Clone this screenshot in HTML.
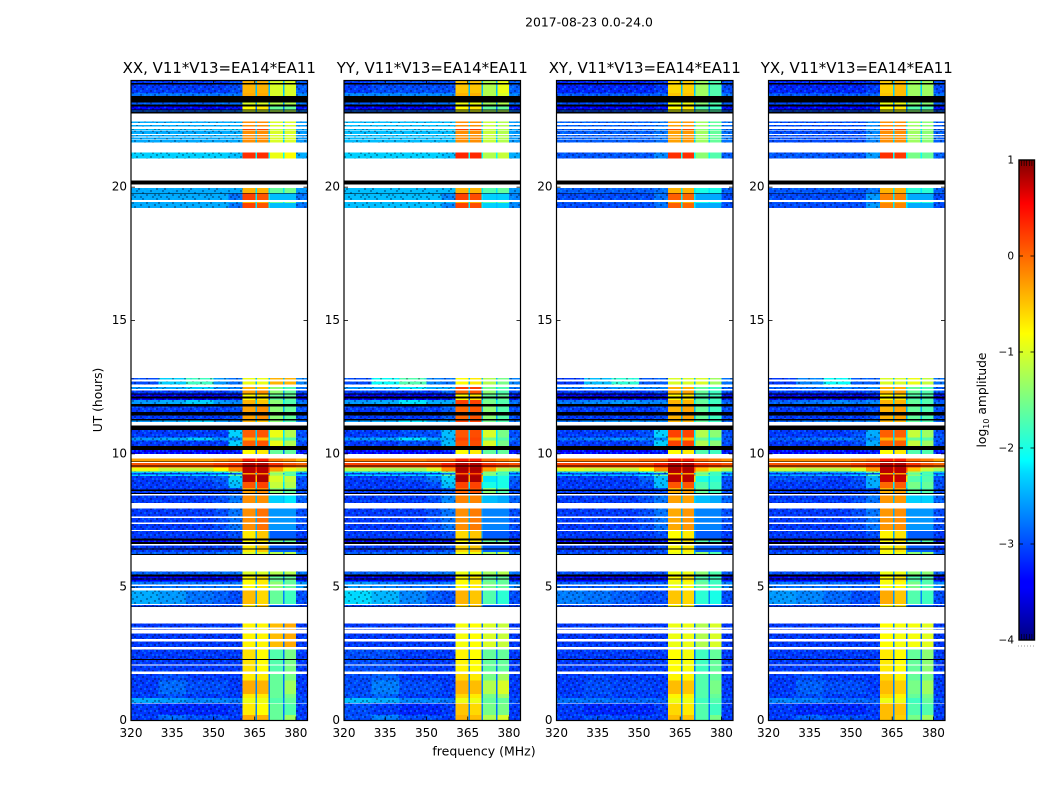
<!DOCTYPE html>
<html lang="en">
<head>
<meta charset="utf-8">
<title>2017-08-23 spectrogram</title>
<style>
html,body{margin:0;padding:0;background:#fff;width:1050px;height:800px;overflow:hidden}
svg{display:block}
text{font-family:"DejaVu Sans","Liberation Sans",sans-serif;fill:#000}
</style>
</head>
<body>
<svg id="figure" width="1050" height="800" viewBox="0 0 1050 800" xmlns="http://www.w3.org/2000/svg">
<defs>
<pattern id="speckle" patternUnits="userSpaceOnUse" width="26" height="22">
<path fill="#000020" fill-opacity="0.33" d="M0 0h2v2h-2zM6 2h2v2h-2zM12 0h2v2h-2zM20 2h2v2h-2zM24 6h2v2h-2zM2 4h2v2h-2zM10 6h2v2h-2zM16 4h2v2h-2zM4 8h2v2h-2zM14 10h2v2h-2zM22 10h2v2h-2zM0 12h2v2h-2zM8 12h2v2h-2zM18 8h2v2h-2zM6 14h2v2h-2zM12 16h2v2h-2zM20 14h2v2h-2zM24 18h2v2h-2zM2 18h2v2h-2zM16 18h2v2h-2zM10 20h2v2h-2zM22 20h2v2h-2zM4 20h2v2h-2z"/>
<path fill="#00c8ff" fill-opacity="0.3" d="M4 0h2v2h-2zM10 2h2v2h-2zM16 0h2v2h-2zM24 2h2v2h-2zM0 6h2v2h-2zM8 4h2v2h-2zM14 6h2v2h-2zM20 6h2v2h-2zM2 10h2v2h-2zM10 10h2v2h-2zM18 12h2v2h-2zM24 12h2v2h-2zM6 10h2v2h-2zM4 16h2v2h-2zM14 14h2v2h-2zM22 16h2v2h-2zM0 16h2v2h-2zM8 18h2v2h-2zM18 20h2v2h-2zM12 12h2v2h-2z"/>
</pattern>
</defs>
<text x="589" y="26.5" font-size="12.4" text-anchor="middle">2017-08-23 0.0-24.0</text>
<text x="484" y="755.5" font-size="12.5" text-anchor="middle">frequency (MHz)</text>
<text transform="translate(102,400) rotate(-90)" font-size="12.3" text-anchor="middle">UT (hours)</text>
<text transform="translate(986,400) rotate(-90)" font-size="12.3" text-anchor="middle">log<tspan dy="3" font-size="8">10</tspan><tspan dy="-3"> amplitude</tspan></text>
</svg>
<script>
// ---- Axis data ----
const panelTitles = ["XX, V11*V13=EA14*EA11","YY, V11*V13=EA14*EA11","XY, V11*V13=EA14*EA11","YX, V11*V13=EA14*EA11"];
const freqTicks = [320,335,350,365,380];
const hourTicks = [0,5,10,15,20];
const colorTicks = [1,0,-1,-2,-3,-4];
// frequency column edges (MHz)
const freqEdges = [320,330,340,350,355.5,360.6,365.3,365.9,370.1,370.6,375.2,375.8,380,384.2];
// time bands: [upper hour, lower hour, spectrum profile]; k = black (zero) row, gaps stay white
const timeBands = [
[24,23.9,'T'],[23.9,23.85,'k'],[23.85,23.54,'T'],[23.54,23.41,'U'],[23.41,23.18,'k'],[23.18,23.1,'Y'],[23.1,23.03,'k'],[23.03,22.91,'D'],[22.91,22.87,'k'],[22.87,22.83,'Y'],[22.83,22.77,'k'],
[22.46,22.41,'C'],[22.34,22.28,'C'],[22.19,22.15,'R'],[22.12,22,'C'],[21.95,21.9,'C'],[21.86,21.8,'C'],[21.78,21.68,'C'],[21.3,21.08,'Q'],[20.25,20.1,'k'],
[19.96,19.78,'J'],[19.78,19.76,'k'],[19.76,19.52,'S'],[19.45,19.41,'J'],[19.41,19.22,'S'],
[12.85,12.79,'G'],[12.71,12.6,'G'],[12.5,12.44,'X'],[12.37,12.27,'V'],[12.27,12.22,'k'],[12.22,12.15,'D'],[12.15,12.08,'k'],[12.08,12.02,'D'],[12.02,11.87,'X'],[11.87,11.78,'k'],[11.78,11.56,'V'],[11.56,11.44,'k'],[11.44,11.31,'V'],[11.31,11.25,'k'],[11.25,11.19,'X'],
[11.06,10.9,'k'],[10.9,10.62,'B'],[10.62,10.5,'X'],[10.5,10.3,'B'],[10.3,10.15,'k'],[10.15,10,'D'],[9.82,9.72,'H'],[9.72,9.69,'k'],[9.65,9.56,'E'],[9.56,9.52,'k'],[9.52,9.48,'E'],[9.48,9.34,'F'],[9.34,9.29,'c'],[9.29,9.22,'V'],[9.22,9.17,'c'],[9.17,8.95,'K'],[8.95,8.72,'L'],[8.72,8.66,'V'],[8.66,8.6,'k'],[8.6,8.53,'V'],[8.53,8.5,'k'],
[8.43,8.15,'P'],[7.95,7.65,'M'],[7.6,7.42,'M'],[7.37,7.15,'M'],[7.1,6.82,'N'],[6.82,6.75,'k'],[6.75,6.7,'D'],[6.7,6.62,'k'],[6.57,6.45,'N'],[6.45,6.42,'k'],[6.42,6.32,'N'],[6.32,6.25,'Y'],[6.25,6.21,'k'],
[5.58,5.47,'Y'],[5.47,5.4,'k'],[5.4,5.33,'D'],[5.33,5.28,'k'],[5.28,5.22,'D'],[5.22,5.1,'W'],[5.05,4.97,'W'],[4.87,4.37,'w'],[4.33,4.27,'N'],[4.27,4.25,'k'],
[3.63,3.48,'Z'],[3.42,3.4,'Z'],[3.27,3.05,'Z'],[2.96,2.75,'Z'],[2.66,2.31,'z'],[2.31,2.26,'k'],[2.26,2.1,'z'],[2.06,1.84,'z'],[1.75,1.5,'o'],[1.5,1,'n'],[1,0.85,'o'],[0.85,0.66,'A'],[0.63,0.2,'I'],[0.2,0,'n']
];
const profileKeys = ['T','U','Y','D','C','R','Q','J','S','G','V','X','B','H','E','F','c','K','L','P','M','N','W','w','Z','z','n','o','A','I'];
const unspeckledProfiles = ['H','E','F'];
// log10 amplitude per frequency column, one line per profile key
const levelsXX = [
[-3.1,-3.1,-3.1,-3.1,-3,-0.4,-2.4,-0.4,-2.4,-1,-2.4,-1,-2.9],
[-2.8,-2.8,-2.8,-2.8,-2.8,-0.35,-2.3,-0.35,-2.3,-1,-2.3,-1,-2.7],
[-2.9,-2.9,-2.9,-2.8,-2.8,-1,-2.5,-1,-2.5,-1.2,-2.5,-1.2,-2.8],
[-3.4,-3.4,-3.4,-3.4,-3.3,-0.8,-2.8,-0.7,-2.8,-1.6,-2.8,-1.6,-3.3],
[-2.5,-2.5,-2.5,-2.5,-2.5,-0.2,-2.4,-0.2,-2.3,-1,-2.3,-1,-2.6],
[-2.4,-2.4,-2.4,-2.4,-2.3,0.2,-2.2,0.2,-2.2,-1.1,-2.2,-1.1,-2.5],
[-2.3,-2.3,-2.3,-2.3,-2.4,0.3,-2.1,0.3,-2.1,-0.9,-2.1,-0.8,-2.5],
[-2.5,-2.5,-2.5,-2.5,-2.5,-0.4,-2.2,-0.4,-2.2,-1.6,-2.2,-1.5,-2.6],
[-2.5,-2.5,-2.5,-2.5,-2.8,0.2,-2.2,0.1,-2.2,-2.4,-2.4,-2.4,-2.8],
[-3,-2.3,-1.8,-2.6,-2.8,-0.9,-2.4,-0.9,-2.4,-0.4,-2.4,-0.4,-2.7],
[-3.1,-3.1,-3.1,-3.1,-3,-0.3,-2.5,-0.2,-2.5,-1.4,-2.5,-1.6,-3],
[-2.6,-2.5,-2.3,-2.6,-2.7,-0.4,-2.3,-0.5,-2.2,-1.4,-2.2,-1.7,-2.8],
[-3.1,-3.1,-3.1,-3.1,-2.3,0.05,-2.3,0.1,-2.2,-0.9,-2.2,-1.2,-3],
[-0.3,-0.3,-0.3,-0.2,-0.1,0.4,-0.2,0.4,-0.1,-0.1,-0.2,-0.2,-0.4],
[0.1,0.1,0.1,0.2,0.3,0.8,0.3,0.8,0.3,0.3,0.1,0.1,0],
[-0.9,-1.1,-1.1,-0.8,-0.2,0.8,0.2,0.8,0.1,-0.3,-0.7,-0.9,-1.1],
[-2.3,-2.3,-2.3,-2.2,-1.6,0.8,-0.2,0.8,-0.2,-1.2,-1.5,-1.7,-2.4],
[-3.1,-3.1,-3,-2.9,-2.3,0.8,-0.5,0.85,-0.6,-1,-2,-1.1,-3],
[-3.1,-3.1,-3.1,-3,-2.4,0.1,-2.2,0.2,-2.2,-1.1,-2.2,-1.2,-3],
[-3.1,-3.1,-3.1,-3,-2.8,-0.2,-2.4,-0.2,-2.3,-2.3,-2.4,-2.2,-2.9],
[-3.1,-3.1,-3.1,-3,-2.8,-0.2,-2.5,-0.05,-2.6,-2.6,-2.6,-2.6,-3],
[-3.1,-3.1,-3.1,-3.1,-3,-0.7,-2.5,-0.5,-2.6,-2.9,-2.9,-2.9,-3.1],
[-2.8,-2.8,-2.8,-2.8,-2.8,-0.8,-2.4,-0.7,-2.3,-1.4,-2.3,-1.6,-2.6],
[-2.5,-2.6,-2.8,-2.9,-3,-0.45,-2.6,-0.6,-2.7,-1.6,-2.7,-1.8,-3],
[-3.1,-3.1,-3.1,-3.1,-3.1,-0.75,-2.7,-0.75,-2.8,-0.45,-2.8,-0.35,-3.1],
[-3.1,-3.1,-3.1,-3.1,-3.1,-0.65,-2.7,-0.8,-2.8,-1.7,-2.8,-1.5,-3.1],
[-3.1,-2.85,-3,-3,-3.1,-0.35,-2.7,-0.4,-2.7,-1.6,-2.8,-1.3,-3.1],
[-3.1,-3,-3.1,-3.1,-3.1,-0.7,-2.7,-0.7,-2.7,-1.6,-2.8,-1.5,-3.1],
[-2.5,-2.6,-2.7,-2.7,-2.8,-0.9,-2.6,-0.9,-2.6,-1.7,-2.7,-1.6,-3],
[-3.1,-3.2,-3.2,-3.2,-3.1,-0.7,-2.7,-0.8,-2.7,-1.6,-2.8,-1.7,-3.1]
];
const levelsYY = [
[-3.1,-3,-3,-3,-3,-0.5,-2.4,-0.5,-2.4,-1.2,-2.4,-0.9,-2.9],
[-2.7,-2.7,-2.7,-2.7,-2.7,-0.4,-2.3,-0.4,-2.3,-1.2,-2.3,-1,-2.7],
[-2.9,-2.9,-2.9,-2.8,-2.8,-0.9,-2.5,-0.9,-2.5,-1.3,-2.5,-1.2,-2.8],
[-3.4,-3.4,-3.4,-3.4,-3.3,-0.8,-2.8,-0.7,-2.8,-1.6,-2.8,-1.6,-3.3],
[-2.4,-2.4,-2.4,-2.4,-2.4,-0.2,-2.3,-0.2,-2.3,-1.1,-2.3,-1.2,-2.6],
[-2.4,-2.4,-2.4,-2.4,-2.3,0.25,-2.2,0.25,-2.2,-1.1,-2.2,-1.2,-2.5],
[-2.3,-2.3,-2.3,-2.3,-2.4,0.35,-2.1,0.35,-2.1,-1.2,-2.1,-1.1,-2.5],
[-2.4,-2.4,-2.4,-2.4,-2.4,-0.4,-2.2,-0.4,-2.2,-1.7,-2.2,-1.6,-2.6],
[-2.4,-2.4,-2.4,-2.4,-2.7,0.2,-2.2,0.15,-2.2,-2.3,-2.4,-2.3,-2.7],
[-3,-2.1,-1.7,-2.7,-2.8,-0.8,-2.4,-0.7,-2.4,-1.2,-2.4,-1.5,-2.7],
[-3.1,-3.1,-3.1,-3.1,-2.9,0,-2.5,0.1,-2.5,-1.4,-2.5,-1.7,-3],
[-2.6,-2.5,-2.2,-2.5,-2.5,0.2,-2.3,0.2,-2.2,-1.5,-2.2,-1.7,-2.8],
[-3.1,-3.1,-3,-3,-2.4,0.1,-2.3,0.15,-2.2,-1,-2.2,-1.5,-3],
[-0.1,-0.1,-0.1,0,0,0.4,0,0.4,0,0,-0.1,-0.1,-0.2],
[0.2,0.2,0.2,0.2,0.4,0.8,0.4,0.8,0.4,0.3,0.2,0.2,0.1],
[-1.2,-1.3,-1.3,-1,-0.2,0.85,0.2,0.85,0.1,-0.3,-1,-1.2,-1.3],
[-2.3,-2.3,-2.3,-2.2,-1.6,0.8,-0.2,0.8,-0.2,-1.5,-1.7,-1.8,-2.4],
[-3.1,-3.1,-3,-2.8,-2.3,0.85,-0.4,0.85,-0.5,-2.2,-2.3,-2,-2.9],
[-3.1,-3.1,-3.1,-3,-2.4,0.2,-2.2,0.2,-2.2,-2,-2.3,-2,-3],
[-3.1,-3.1,-3.1,-3,-2.7,-0.15,-2.3,-0.15,-2.3,-2.4,-2.4,-2.5,-2.9],
[-3.1,-3.1,-3.1,-3,-2.8,-0.2,-2.5,-0.1,-2.6,-2.7,-2.7,-2.7,-3],
[-3.1,-3.1,-3.1,-3.1,-3,-0.6,-2.5,-0.5,-2.6,-2.9,-2.9,-2.9,-3.1],
[-2.6,-2.7,-2.8,-2.8,-2.8,-0.8,-2.4,-0.7,-2.3,-1.5,-2.3,-1.6,-2.7],
[-2.25,-2.45,-2.7,-2.9,-3,-0.4,-2.6,-0.5,-2.7,-1.7,-2.7,-1.9,-3],
[-3.1,-3.1,-3.1,-3.1,-3.1,-0.85,-2.7,-0.8,-2.8,-1,-2.8,-1.1,-3.1],
[-3,-3,-3.1,-3.1,-3.1,-0.75,-2.7,-0.8,-2.8,-1.6,-2.8,-1.6,-3.1],
[-3,-2.75,-3,-3,-3.1,-0.4,-2.7,-0.45,-2.7,-1.2,-2.8,-1,-3.1],
[-3,-2.9,-3.1,-3.1,-3.1,-0.6,-2.7,-0.7,-2.7,-1.5,-2.8,-1.3,-3.1],
[-2.4,-2.5,-2.7,-2.7,-2.8,-0.9,-2.6,-0.9,-2.6,-1.6,-2.7,-1.6,-3],
[-3,-3.1,-3.2,-3.2,-3.1,-0.5,-2.7,-0.6,-2.7,-1.5,-2.8,-1.5,-3.1]
];
const levelsXY = [
[-3.2,-3.2,-3.2,-3.2,-3.1,-0.6,-2.4,-0.55,-2.4,-1.3,-2.4,-1.7,-3],
[-2.95,-2.95,-2.95,-2.95,-2.9,-0.5,-2.3,-0.5,-2.3,-1.3,-2.3,-1.7,-2.8],
[-3,-3,-3,-3,-3,-0.9,-2.5,-0.9,-2.5,-1.4,-2.5,-1.7,-2.9],
[-3.4,-3.4,-3.4,-3.4,-3.3,-0.8,-2.8,-0.7,-2.8,-1.7,-2.8,-1.8,-3.3],
[-2.9,-2.9,-2.9,-2.9,-2.8,-0.3,-2.4,-0.25,-2.3,-1.3,-2.3,-1.6,-2.8],
[-2.9,-2.9,-2.9,-2.9,-2.7,0.15,-2.2,0.15,-2.2,-1.4,-2.2,-1.7,-2.8],
[-2.95,-2.95,-2.95,-2.95,-2.7,0.3,-2.1,0.3,-2.1,-1.4,-2.1,-1.7,-2.9],
[-2.9,-2.9,-2.9,-2.9,-2.8,-0.4,-2.2,-0.4,-2.2,-2,-2.2,-2,-2.9],
[-3,-3,-3,-3,-2.8,0.05,-2.2,0,-2.2,-2.5,-2.5,-2.5,-3],
[-3.1,-2.4,-1.9,-2.9,-2.9,-1,-2.4,-1,-2.4,-1,-2.4,-1.3,-2.8],
[-3.1,-3.1,-3.1,-3.1,-3,-0.4,-2.5,-0.3,-2.5,-1.6,-2.5,-1.8,-3],
[-2.8,-2.7,-2.6,-2.7,-2.7,-0.4,-2.3,-0.4,-2.2,-1.6,-2.2,-1.8,-2.9],
[-3.1,-3.1,-3.1,-3,-2.3,0.2,-2.3,0.2,-2.2,-1.2,-2.2,-1.4,-3],
[-0.1,-0.1,-0.1,0,0,0.4,0,0.4,0,0,-0.1,-0.1,-0.2],
[0.2,0.2,0.2,0.2,0.4,0.8,0.4,0.8,0.4,0.3,0.2,0.2,0.1],
[-1,-1.1,-1.1,-0.8,-0.2,0.85,0.2,0.85,0.1,-0.5,-0.9,-1,-1.2],
[-2.4,-2.4,-2.4,-2.2,-1.6,0.8,-0.2,0.8,-0.2,-1.4,-1.7,-1.8,-2.4],
[-3.1,-3.1,-3.1,-2.9,-2.4,0.8,-0.5,0.8,-0.6,-2,-2.3,-1.9,-3],
[-3.1,-3.1,-3.1,-3,-2.4,0.1,-2.2,0.1,-2.2,-1.7,-2.3,-1.8,-3],
[-3.1,-3.1,-3.1,-3,-2.8,-0.3,-2.4,-0.3,-2.3,-2.4,-2.4,-2.5,-2.9],
[-3.1,-3.1,-3.1,-3,-2.8,-0.35,-2.5,-0.25,-2.6,-2.7,-2.7,-2.7,-3],
[-3.1,-3.1,-3.1,-3.1,-3,-0.8,-2.5,-0.7,-2.6,-2.9,-2.9,-2.9,-3.1],
[-2.9,-2.9,-2.9,-2.9,-2.9,-0.9,-2.4,-0.85,-2.3,-1.6,-2.3,-1.8,-2.7],
[-2.75,-2.8,-2.9,-3,-3,-0.5,-2.6,-0.6,-2.7,-1.9,-2.7,-2,-3],
[-3.1,-3.1,-3.1,-3.1,-3.1,-0.9,-2.7,-0.9,-2.8,-1.2,-2.8,-1,-3.1],
[-3.1,-3.1,-3.1,-3.1,-3.1,-0.8,-2.7,-0.85,-2.8,-1.8,-2.8,-1.6,-3.1],
[-3.1,-3,-3.05,-3.05,-3.1,-0.45,-2.7,-0.5,-2.7,-1.7,-2.8,-1.5,-3.1],
[-3.1,-3.05,-3.1,-3.1,-3.1,-0.75,-2.7,-0.75,-2.7,-1.7,-2.8,-1.6,-3.1],
[-2.8,-2.8,-2.85,-2.85,-2.9,-0.9,-2.6,-0.9,-2.6,-1.8,-2.7,-1.7,-3],
[-3.1,-3.2,-3.2,-3.2,-3.1,-0.6,-2.7,-0.7,-2.7,-1.7,-2.8,-1.8,-3.1]
];
const levelsYX = [
[-3.2,-3.2,-3.2,-3.2,-3.1,-0.55,-2.3,-0.45,-2.3,-1.3,-2.3,-1.3,-3],
[-2.95,-2.95,-2.95,-2.95,-2.9,-0.5,-2.3,-0.45,-2.3,-1.3,-2.3,-1.3,-2.8],
[-3,-3,-3,-3,-3,-0.9,-2.5,-0.9,-2.5,-1.4,-2.5,-1.4,-2.9],
[-3.4,-3.4,-3.4,-3.4,-3.3,-0.8,-2.8,-0.7,-2.8,-1.7,-2.8,-1.7,-3.3],
[-3,-3,-3,-3,-2.7,-0.2,-2.3,-0.2,-2.3,-1.3,-2.3,-1.4,-2.9],
[-3,-3,-3,-3,-2.6,0.2,-2.2,0.2,-2.2,-1.3,-2.2,-1.4,-2.9],
[-2.95,-2.95,-2.95,-2.95,-2.6,0.3,-2.1,0.25,-2.1,-1.5,-2.1,-1.6,-2.9],
[-2.95,-2.95,-2.95,-2.95,-2.8,-0.4,-2.2,-0.4,-2.2,-1.9,-2.2,-1.9,-2.9],
[-3,-3,-3,-3,-2.6,-0.15,-2.2,-0.15,-2.2,-2.5,-2.5,-2.5,-3],
[-3.1,-2.7,-2.1,-2.9,-2.9,-1,-2.4,-1,-2.4,-0.9,-2.4,-1.1,-2.8],
[-3.1,-3.1,-3.1,-3.1,-3,-0.4,-2.5,-0.3,-2.5,-1.6,-2.5,-1.7,-3],
[-2.9,-2.8,-2.7,-2.8,-2.7,-0.4,-2.3,-0.4,-2.2,-1.6,-2.2,-1.7,-2.9],
[-3.1,-3.1,-3.1,-3,-2.5,0.05,-2.3,0.05,-2.2,-1.1,-2.2,-1.3,-3],
[-0.2,-0.2,-0.2,-0.1,0,0.4,0,0.4,0,0,-0.1,-0.1,-0.3],
[0.1,0.1,0.1,0.2,0.3,0.8,0.3,0.8,0.3,0.3,0.1,0.1,0],
[-1.1,-1.2,-1.2,-1,-0.3,0.8,0.2,0.8,0.1,-0.5,-1,-1.1,-1.3],
[-2.5,-2.5,-2.5,-2.3,-1.7,0.8,-0.2,0.8,-0.2,-1.4,-1.7,-1.8,-2.4],
[-3,-3,-3.1,-3,-2.5,0.75,-0.5,0.75,-0.6,-1.7,-2.2,-1.7,-3],
[-3.1,-3.1,-3.1,-3,-2.5,0,-2.2,0.05,-2.2,-1.5,-2.3,-1.6,-3],
[-3.1,-3.1,-3.1,-3,-2.8,-0.25,-2.4,-0.25,-2.3,-2.3,-2.4,-2.3,-2.9],
[-3.1,-3.1,-3.1,-3,-2.8,-0.25,-2.5,-0.2,-2.6,-2.6,-2.6,-2.6,-3],
[-3.1,-3.1,-3.1,-3.1,-3,-0.75,-2.5,-0.65,-2.6,-2.9,-2.9,-2.9,-3.1],
[-2.8,-2.8,-2.85,-2.9,-2.9,-0.85,-2.4,-0.8,-2.3,-1.5,-2.3,-1.7,-2.7],
[-2.6,-2.7,-2.85,-3,-3,-0.35,-2.6,-0.5,-2.7,-1.7,-2.7,-1.8,-3],
[-3.1,-3.1,-3.1,-3.1,-3.1,-0.8,-2.7,-0.85,-2.8,-0.85,-2.8,-0.95,-3.1],
[-3.1,-3.1,-3.1,-3.1,-3.1,-0.7,-2.7,-0.8,-2.8,-1.6,-2.8,-1.4,-3.1],
[-3.1,-2.9,-3,-3,-3.1,-0.45,-2.7,-0.55,-2.7,-1.5,-2.8,-1.3,-3.1],
[-3.1,-3,-3.1,-3.1,-3.1,-0.6,-2.7,-0.75,-2.7,-1.6,-2.8,-1.5,-3.1],
[-2.7,-2.75,-2.85,-2.85,-2.9,-0.9,-2.6,-0.9,-2.6,-1.8,-2.7,-1.6,-3],
[-3.1,-3.2,-3.2,-3.2,-3.1,-0.45,-2.7,-0.5,-2.7,-1.7,-2.8,-1.7,-3.1]
];
const panelLevels = [levelsXX,levelsYY,levelsXY,levelsYX];

// ---- Layout and scales ----
const NS = 'http://www.w3.org/2000/svg';
const fig = document.getElementById('figure');
const axisLefts = [131,344,556.5,768.5];
const axisW = 176.5, axisTop = 80.5, axisBottom = 720.5;
const fMin = 320, fMax = 384.2, hMin = 0, hMax = 24, vMin = -4, vMax = 1;
function xScale(f,left){return left+(f-fMin)/(fMax-fMin)*axisW;}
function yScale(h){return axisBottom-(h-hMin)/(hMax-hMin)*(axisBottom-axisTop);}
const jetStops = [[0,0,0,128],[0.11,0,0,255],[0.125,0,0,255],[0.35,0,219,255],[0.375,0,255,255],[0.64,255,255,0],[0.91,255,0,0],[1,128,0,0]];
function jet(v){
  const t = Math.max(0,Math.min(1,(v-vMin)/(vMax-vMin)));
  for(let i=1;i<jetStops.length;i++){
    if(t<=jetStops[i][0]){
      const a = jetStops[i-1], b = jetStops[i], u = (t-a[0])/(b[0]-a[0]||1);
      return 'rgb('+[1,2,3].map(k=>Math.round(a[k]+(b[k]-a[k])*u)).join(',')+')';
    }
  }
  return 'rgb(128,0,0)';
}
function make(tag,attrs,parent){
  const el = document.createElementNS(NS,tag);
  for(const k in attrs) el.setAttribute(k,attrs[k]);
  (parent||fig).appendChild(el);
  return el;
}
// ---- Panels ----
panelTitles.forEach(function(title,p){
  const left = axisLefts[p], right = left+axisW;
  const levels = panelLevels[p];
  const g = make('g',{'shape-rendering':'crispEdges'});
  
  
  timeBands.forEach(function(band){
    const y0 = yScale(band[0]), y1 = yScale(band[1]);
    if(band[2]==='k'){
      const blackRow = make('rect',{x:left,y:y0,width:axisW,height:y1-y0,fill:'#000'},g);
      
      
      return;
    }
    const row = levels[profileKeys.indexOf(band[2])];
    row.forEach(function(v,c){
      const x0 = xScale(freqEdges[c],left), x1 = xScale(freqEdges[c+1],left);
      const cell = make('rect',{x:x0,y:y0,width:x1-x0,height:y1-y0,fill:jet(v)},g);
      
      
    });
    if(unspeckledProfiles.indexOf(band[2])<0){
      [[0,5],[12,13]].forEach(function(span){
        const x0 = xScale(freqEdges[span[0]],left), x1 = xScale(freqEdges[span[1]],left);
        const noise = make('rect',{x:x0,y:y0,width:x1-x0,height:y1-y0,fill:'url(#speckle)'},g);
        
        
      });
    }
  });
  const frame = make('rect',{x:left,y:axisTop,width:axisW,height:axisBottom-axisTop,fill:'none',stroke:'#000','stroke-width':1.2});
  
  
  const t = make('text',{x:left+axisW/2,y:73,'font-size':14.95,'text-anchor':'middle'});
  t.textContent = title;
  
  
  freqTicks.forEach(function(f){
    const x = xScale(f,left);
    [[axisBottom,axisBottom-4],[axisTop,axisTop+4]].forEach(function(s){
      const tk = make('line',{x1:x,x2:x,y1:s[0],y2:s[1],stroke:'#000','stroke-width':0.8});
      
      
    });
    const lb = make('text',{x:x,y:737,'font-size':12,'text-anchor':'middle'});
    lb.textContent = f;
    
    
  });
  hourTicks.forEach(function(h){
    const y = yScale(h);
    [[left,left+4],[right,right-4]].forEach(function(s){
      const tk = make('line',{x1:s[0],x2:s[1],y1:y,y2:y,stroke:'#000','stroke-width':0.8});
      
      
    });
    const lb = make('text',{x:left-4,y:y+3.5,'font-size':12,'text-anchor':'end'});
    lb.textContent = h;
    
    
  });
});
// ---- Colorbar ----
const cbX = 1019, cbW = 15.5, cbTop = 160, cbBottom = 640;
function cbY(v){return cbBottom-(v-vMin)/(vMax-vMin)*(cbBottom-cbTop);}
const cb = make('g',{'shape-rendering':'crispEdges'});


for(let i=0;i<240;i++){
  const v0 = vMin+(vMax-vMin)*i/240, v1 = vMin+(vMax-vMin)*(i+1)/240;
  const seg = make('rect',{x:cbX,y:cbY(v1),width:cbW,height:cbY(v0)-cbY(v1)+0.5,fill:jet((v0+v1)/2)},cb);
  
  
}
const cbFrame = make('rect',{x:cbX,y:cbTop,width:cbW,height:cbBottom-cbTop,fill:'none',stroke:'#000','stroke-width':1.4});


colorTicks.forEach(function(v){
  const y = cbY(v);
  [[cbX,cbX+4],[cbX+cbW,cbX+cbW-4]].forEach(function(s){
    const tk = make('line',{x1:s[0],x2:s[1],y1:y,y2:y,stroke:'#000','stroke-width':0.8});
    
    
  });
  const lb = make('text',{x:cbX-5,y:y+3.5,'font-size':10.5,'text-anchor':'end'});
  lb.textContent = (v<0?'\u2212':'')+Math.abs(v);
  
  
});
[0,1,2,3,4].forEach(function(i){
  [cbTop,cbBottom].forEach(function(y,j){
    const mt = make('line',{x1:cbX+2.5+i*2.6,x2:cbX+2.5+i*2.6,y1:y,y2:j?y-6:y+6,stroke:'#000','stroke-width':0.6});
    
    
  });
});
[0,1,2,3,4,5].forEach(function(i){
  const dot = make('rect',{x:1018+i*3,y:645.5,width:1,height:1,fill:'#999'});
  
  
});
</script>
</body>
</html>
